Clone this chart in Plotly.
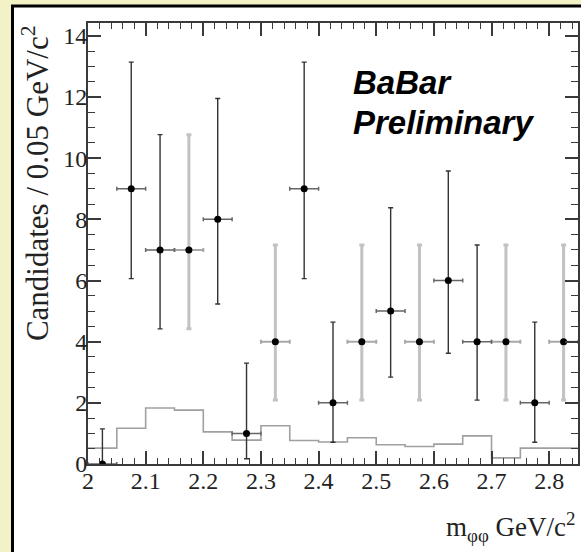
import plotly.graph_objects as go

# ---- data ----
bin_centers = [2.025, 2.075, 2.125, 2.175, 2.225, 2.275, 2.325, 2.375, 2.425,
               2.475, 2.525, 2.575, 2.625, 2.675, 2.725, 2.775, 2.825]
counts = [0, 9, 7, 7, 8, 1, 4, 9, 2, 4, 5, 4, 6, 4, 4, 2, 4]
err_up = [1.15, 4.14, 3.77, 3.77, 3.95, 2.30, 3.16, 4.14, 2.64,
          3.16, 3.38, 3.16, 3.58, 3.16, 3.16, 2.64, 3.16]
err_down = [0.0, 2.94, 2.58, 2.58, 2.77, 0.83, 1.91, 2.94, 1.29,
            1.91, 2.16, 1.91, 2.38, 1.91, 1.91, 1.29, 1.91]
# error bars that appear light/blurred in the picture
light_bar = [False, False, False, True, False, False, True, False, False,
             True, False, True, False, False, True, False, True]
half_bin = 0.025

bkg_edges = [2.00, 2.05, 2.10, 2.15, 2.20, 2.25, 2.30, 2.35, 2.40, 2.45,
             2.50, 2.55, 2.60, 2.65, 2.70, 2.75, 2.80, 2.85]
bkg_values = [0.52, 1.17, 1.83, 1.76, 1.05, 0.78, 1.25, 0.77, 0.72,
              0.86, 0.63, 0.57, 0.65, 0.92, 0.20, 0.52, 0.52]

x_ticks = [2.0, 2.1, 2.2, 2.3, 2.4, 2.5, 2.6, 2.7, 2.8]
x_ticklabels = ["2", "2.1", "2.2", "2.3", "2.4", "2.5", "2.6", "2.7", "2.8"]
y_ticks = [0, 2, 4, 6, 8, 10, 12, 14]

fig = go.Figure()

# background histogram (step line)
fig.add_trace(go.Scatter(
    x=bkg_edges, y=bkg_values + [bkg_values[-1]],
    mode="lines", line=dict(shape="hv", color="#a0a0a0", width=1.6),
    hoverinfo="skip", showlegend=False))

def subset(lst, flag):
    return [v for v, f in zip(lst, light_bar) if f == flag]

for flag in (True, False):
    fig.add_trace(go.Scatter(
        x=subset(bin_centers, flag), y=subset(counts, flag),
        mode="markers",
        marker=dict(color="black", size=7),
        error_y=dict(type="data", symmetric=False,
                     array=subset(err_up, flag), arrayminus=subset(err_down, flag),
                     color="#c2c2c2" if flag else "#333333",
                     thickness=3 if flag else 1.4, width=2.5),
        error_x=dict(type="constant", value=half_bin,
                     color="#a8a8a8" if flag else "#666666",
                     thickness=2 if flag else 1.5, width=2),
        showlegend=False))

axis_common = dict(
    showline=True, linecolor="#3a3a3a", linewidth=2, mirror="allticks",
    ticks="inside", tickcolor="#3a3a3a", tickwidth=1.5,
    showgrid=False, zeroline=False, automargin=False,
    tickfont=dict(family="Liberation Serif", size=24, color="#222"),
)

fig.update_xaxes(
    range=[2.0, 2.85], tickvals=x_ticks, ticktext=x_ticklabels, ticklen=13,
    ticklabelstandoff=-6,
    minor=dict(dtick=0.02, ticklen=6, tickcolor="#3a3a3a", ticks="inside", tickwidth=1.3),
    **axis_common)
fig.update_yaxes(
    range=[0, 14.42], tickvals=y_ticks, ticklen=13,
    ticklabelstandoff=-6,
    minor=dict(dtick=0.5, ticklen=7, tickcolor="#3a3a3a", ticks="inside", tickwidth=1.3),
    **axis_common)

fig.update_layout(
    width=581, height=552,
    margin=dict(l=88, r=3, t=23, b=88, autoexpand=False),
    paper_bgcolor="#f3f1c6", plot_bgcolor="white",
    shapes=[dict(type="rect", xref="paper", yref="paper",
                 x0=-0.1541, x1=1.3, y0=-0.5, y1=1.0385,
                 fillcolor="white", line=dict(color="black", width=3),
                 layer="below")],
    annotations=[
        dict(text="<b><i>BaBar</i></b>", xref="paper", yref="paper",
             x=0.536, y=0.865, xanchor="left", yanchor="middle", showarrow=False,
             font=dict(family="Liberation Sans", size=33, color="black")),
        dict(text="<b><i>Preliminary</i></b>", xref="paper", yref="paper",
             x=0.536, y=0.775, xanchor="left", yanchor="middle", showarrow=False,
             font=dict(family="Liberation Sans", size=33, color="black")),
        dict(text="Candidates / 0.05 GeV/c<sup>2</sup>", xref="paper", yref="paper",
             x=-0.108, y=1.0, xanchor="center", yanchor="top", textangle=-90,
             showarrow=False,
             font=dict(family="Liberation Serif", size=31, color="#222")),
        dict(text="m<sub>φφ</sub> GeV/c<sup>2</sup>", xref="paper", yref="paper",
             x=1.0, y=-0.095, xanchor="right", yanchor="top", showarrow=False,
             font=dict(family="Liberation Serif", size=27, color="#222")),
    ],
)

fig.write_html("out.html", config={"displayModeBar": False},
               post_script="document.body.style.margin='0';document.body.style.overflow='hidden';")
